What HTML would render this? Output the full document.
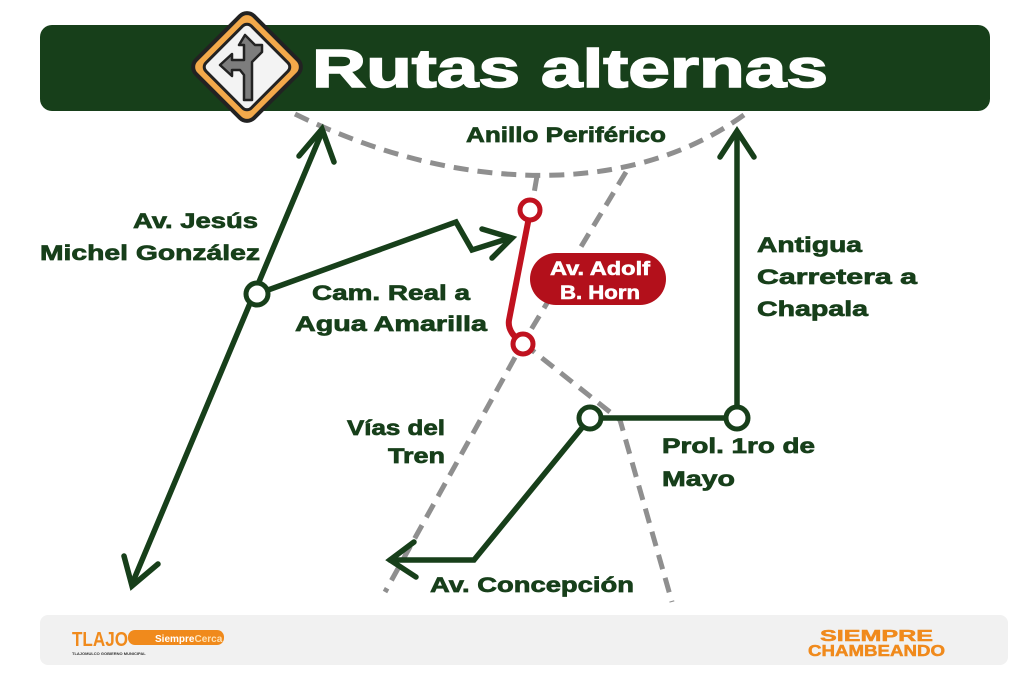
<!DOCTYPE html>
<html><head><meta charset="utf-8"><style>
html,body{margin:0;padding:0;background:#fff;}
svg{display:block;}
text{font-family:"Liberation Sans",sans-serif;font-weight:bold;}
</style></head><body>
<svg width="1023" height="682" viewBox="0 0 1023 682" xmlns="http://www.w3.org/2000/svg">
<rect width="1023" height="682" fill="#fff"/>
<g fill="none" stroke="#8f8f8f" stroke-width="5" stroke-dasharray="15 9">
<path d="M295 114 Q430 180 560 175 Q670 170 748 112"/>
<path d="M537 176 L532 205"/>
<path d="M626 172 L523 343 L385 592"/>
<path d="M523 343 L620 420 L672 602"/>
</g>
<g fill="none" stroke="#173f1a" stroke-width="5.5" stroke-linecap="round" stroke-linejoin="miter">
<path d="M322 132 L132 584"/>
<path d="M299 156 L322 129 L334 162"/>
<path d="M124 556 L132 586 L158 564"/>
<path d="M257 294 L456 222 L472 250 L510 238"/>
<path d="M482 229 L512 238 L492 258"/>
<path d="M390 560 L474 560 L590 418 L737 418 L737 132"/>
<path d="M414 542 L390 560 L416 577"/>
<path d="M720 157 L737 131 L754 157"/>
</g>
<g fill="#fff" stroke="#173f1a" stroke-width="5">
<circle cx="257" cy="294" r="11"/>
<circle cx="590" cy="418" r="11"/>
<circle cx="737" cy="418" r="11"/>
</g>
<path d="M530 212 L509 320 Q507 332 522 343" fill="none" stroke="#c0121f" stroke-width="6"/>
<g fill="#fff" stroke="#c0121f" stroke-width="5">
<circle cx="530" cy="210" r="10"/>
<circle cx="523" cy="344" r="10"/>
</g>
<rect x="530" y="253" width="136" height="52" rx="26" fill="#b3101b"/>
<g fill="#fff" stroke="#fff" stroke-width="0.6" font-size="19">
<text x="550" y="275" textLength="100" lengthAdjust="spacingAndGlyphs">Av. Adolf</text>
<text x="560" y="299" textLength="80" lengthAdjust="spacingAndGlyphs">B. Horn</text>
</g>
<rect x="40" y="25" width="950" height="86" rx="12" fill="#173f1a"/>
<g transform="translate(247,67) rotate(45)">
<rect x="-41" y="-41" width="82" height="82" rx="10" fill="#f3a94a" stroke="#222" stroke-width="4"/>
<rect x="-32" y="-32" width="64" height="64" rx="6" fill="#f3f3f3" stroke="#222" stroke-width="3"/>
</g>
<path d="M252 100 L252 62 L262 52 L262 45 L255 45 L245 35 L239 45 L244 45 L244 60 L232 60 L232 54 L220 65 L232 76 L232 70 L240 70 L244 75 L244 100 Z" fill="#7d7d7d" stroke="#222" stroke-width="2.5" stroke-linejoin="round"/>
<text x="312" y="87" font-size="54" fill="#fff" stroke="#fff" stroke-width="1.5" textLength="516" lengthAdjust="spacingAndGlyphs">Rutas alternas</text>
<g fill="#173f1a" stroke="#173f1a" stroke-width="0.7" font-size="21">
<text x="466" y="142" textLength="200" lengthAdjust="spacingAndGlyphs">Anillo Periférico</text>
<text x="133" y="228" textLength="125" lengthAdjust="spacingAndGlyphs">Av. Jesús</text>
<text x="40" y="260" textLength="220" lengthAdjust="spacingAndGlyphs">Michel González</text>
<text x="312" y="300" textLength="158" lengthAdjust="spacingAndGlyphs">Cam. Real a</text>
<text x="295" y="331" textLength="192" lengthAdjust="spacingAndGlyphs">Agua Amarilla</text>
<text x="757" y="252" textLength="105" lengthAdjust="spacingAndGlyphs">Antigua</text>
<text x="757" y="284" textLength="160" lengthAdjust="spacingAndGlyphs">Carretera a</text>
<text x="757" y="316" textLength="111" lengthAdjust="spacingAndGlyphs">Chapala</text>
<text x="347" y="435" textLength="98" lengthAdjust="spacingAndGlyphs">Vías del</text>
<text x="388" y="463" textLength="57" lengthAdjust="spacingAndGlyphs">Tren</text>
<text x="662" y="453" textLength="153" lengthAdjust="spacingAndGlyphs">Prol. 1ro de</text>
<text x="662" y="486" textLength="73" lengthAdjust="spacingAndGlyphs">Mayo</text>
<text x="430" y="592" textLength="204" lengthAdjust="spacingAndGlyphs">Av. Concepción</text>
</g>
<rect x="40" y="615" width="968" height="50" rx="8" fill="#f1f1f1"/>
<text x="72" y="646" font-size="20" fill="#f08a1c" textLength="56" lengthAdjust="spacingAndGlyphs">TLAJO</text>
<rect x="128" y="630" width="96" height="15" rx="7" fill="#f08a1c"/>
<text x="155" y="642" font-size="10" fill="#fff">Siempre<tspan fill="#ffe0b0">Cerca</tspan></text>
<text x="72" y="655" font-size="4" fill="#333">TLAJOMULCO GOBIERNO MUNICIPAL</text>
<g fill="#f08a1c" stroke="#f08a1c" stroke-width="0.5" font-size="16">
<text x="820" y="641" textLength="113" lengthAdjust="spacingAndGlyphs">SIEMPRE</text>
<text x="808" y="656" textLength="137" lengthAdjust="spacingAndGlyphs">CHAMBEANDO</text>
</g>
</svg>
</body></html>
